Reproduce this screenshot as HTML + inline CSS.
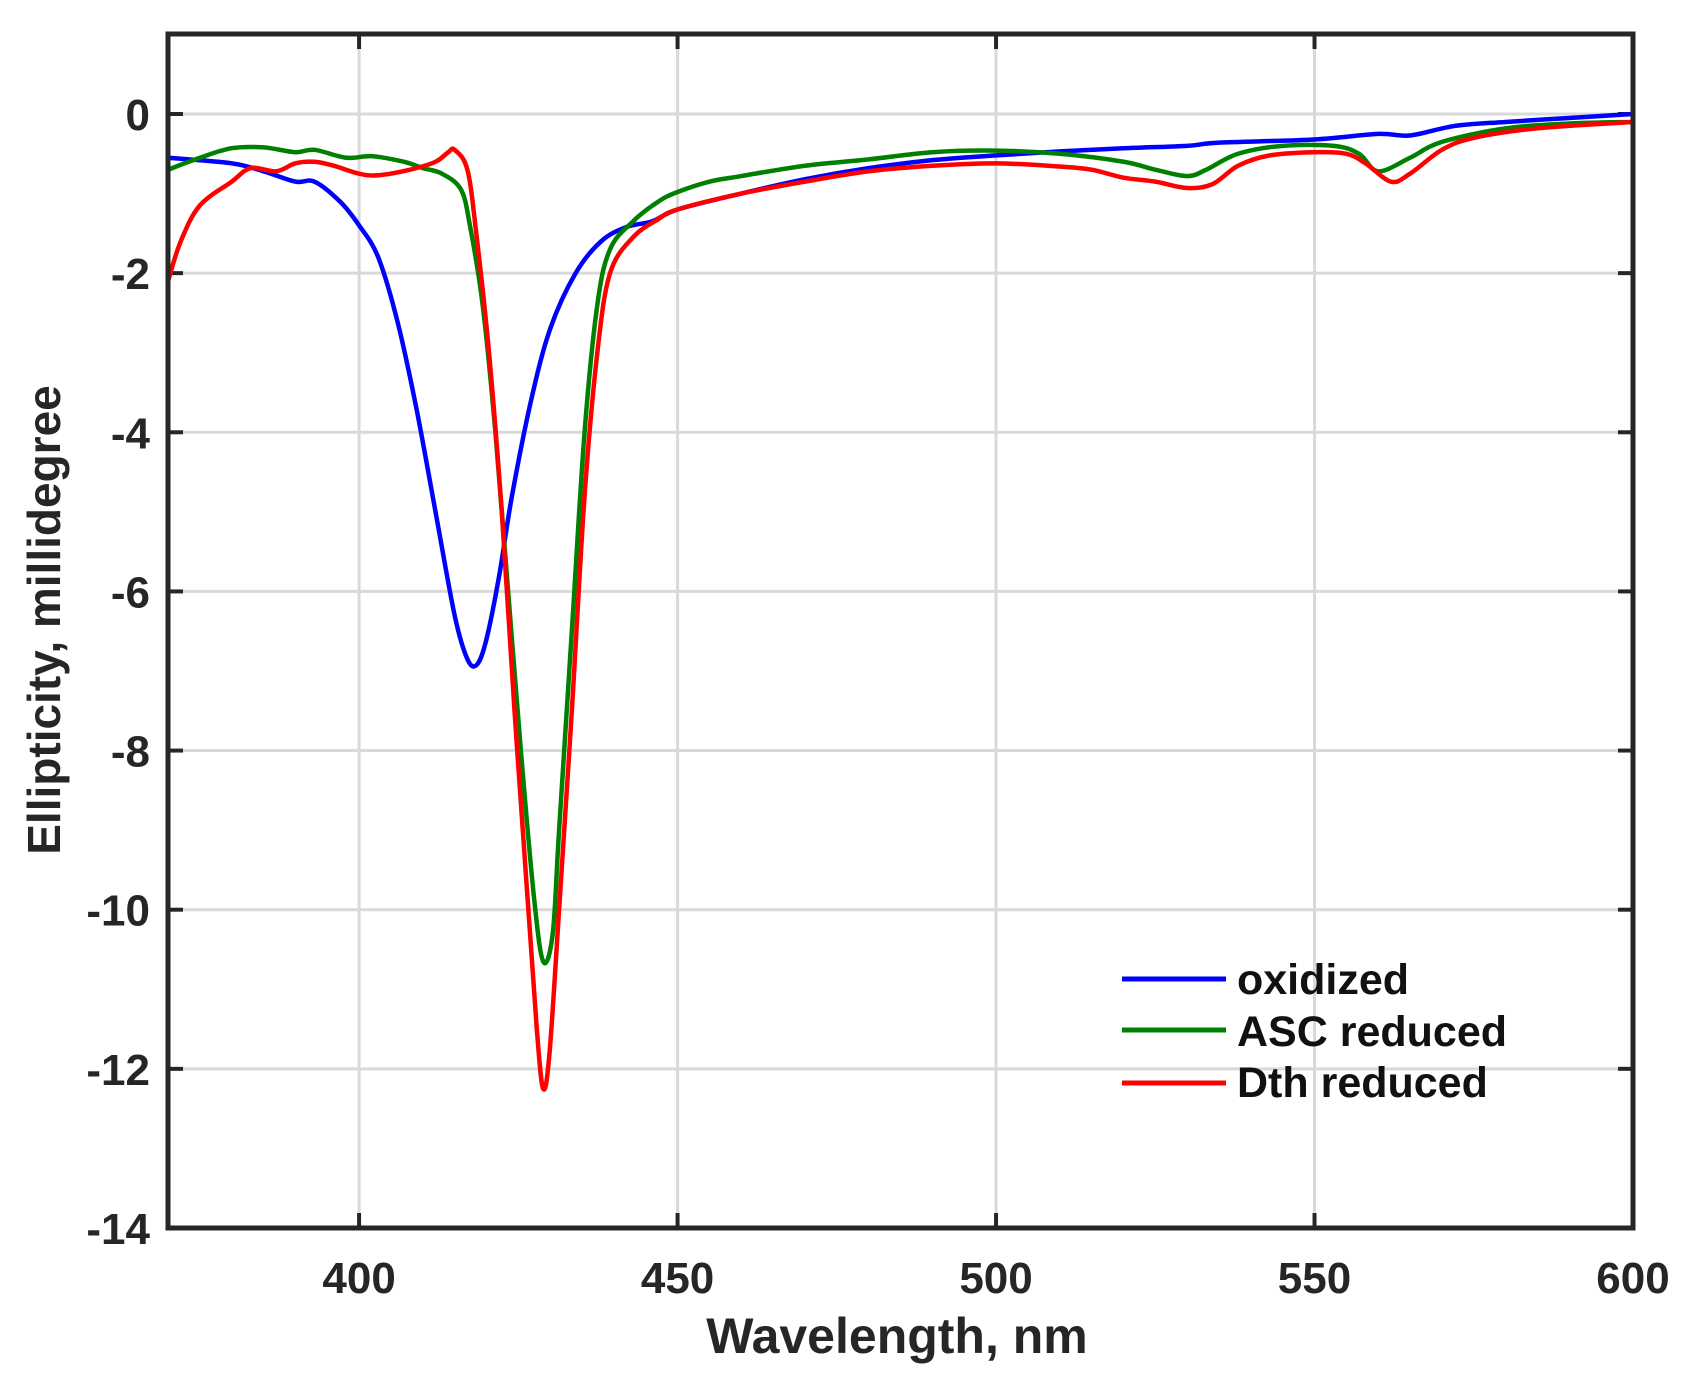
<!DOCTYPE html>
<html><head><meta charset="utf-8"><style>
html,body{margin:0;padding:0;background:#fff;}
svg{display:block;}
text{font-family:"Liberation Sans",Arial,sans-serif;font-weight:bold;fill:#262626;}
</style></head><body>
<svg id="s" width="1694" height="1389" viewBox="0 0 1694 1389" xmlns="http://www.w3.org/2000/svg">
<g id="grid" stroke="#d9d9d9" stroke-width="3"></g>
<g id="ticks" stroke="#262626" stroke-width="4"></g>
<g id="series" fill="none" stroke-width="4.5" stroke-linejoin="round" stroke-linecap="round"></g>
<rect x="168" y="34" width="1465" height="1194" fill="none" stroke="#262626" stroke-width="5"/>
<g id="labels" font-size="44"></g>
<text x="897" y="1353" font-size="50" text-anchor="middle">Wavelength, nm</text>
<text transform="translate(60,620) rotate(-90)" font-size="46" text-anchor="middle">Ellipticity, millidegree</text>
<line x1="1122" y1="979" x2="1226" y2="979" stroke="#0000ff" stroke-width="5"/>
<line x1="1122" y1="1030" x2="1226" y2="1030" stroke="#008000" stroke-width="5"/>
<line x1="1122" y1="1083" x2="1226" y2="1083" stroke="#ff0000" stroke-width="5"/>
<text x="1237" y="994" font-size="43" style="fill:#111">oxidized</text>
<text x="1237" y="1046" font-size="43" style="fill:#111">ASC reduced</text>
<text x="1237" y="1097" font-size="43" style="fill:#111">Dth reduced</text>
</svg>
<script>
var NS="http://www.w3.org/2000/svg";
function X(v){return 168+(v-370)*1465/230;}
function Y(v){return 114-v*79.57;}
function el(p,t,a,txt){var e=document.createElementNS(NS,t);for(var k in a)e.setAttribute(k,a[k]);if(txt)e.textContent=txt;document.getElementById(p).appendChild(e);}
[400,450,500,550,600].forEach(function(v){var x=X(v);el("grid","line",{x1:x,y1:34,x2:x,y2:1228});
 el("ticks","line",{x1:x,y1:1228,x2:x,y2:1213});el("ticks","line",{x1:x,y1:34,x2:x,y2:49});
 el("labels","text",{x:x,y:1293,"text-anchor":"middle"},String(v));});
for(var v=0;v>=-14;v-=2){var y=Y(v);el("grid","line",{x1:168,y1:y,x2:1633,y2:y});
 el("ticks","line",{x1:168,y1:y,x2:183,y2:y});el("ticks","line",{x1:1633,y1:y,x2:1618,y2:y});
 el("labels","text",{x:150,y:y+16,"text-anchor":"end"},String(v));}
var B=[[370,-.55],[380,-.62],[385,-.72],[390,-.85],[393,-.85],[397,-1.1],[400,-1.4],[403,-1.8],[406,-2.6],[409,-3.7],[412,-5.0],[415,-6.3],[417,-6.85],[418.5,-6.92],[420,-6.6],[422,-5.8],[424,-4.8],[427,-3.6],[430,-2.7],[434,-2.0],[438,-1.6],[442,-1.42],[446,-1.35],[450,-1.2],[460,-1.0],[470,-.82],[480,-.68],[490,-.58],[500,-.52],[510,-.47],[520,-.43],[530,-.4],[535,-.36],[550,-.32],[560,-.25],[565,-.27],[572,-.15],[580,-.1],[590,-.05],[600,0]];
var G=[[370,-.7],[375,-.55],[380,-.43],[385,-.42],[390,-.48],[393,-.45],[398,-.55],[402,-.53],[407,-.6],[410,-.68],[413,-.75],[416,-.95],[418,-1.4],[420,-2.4],[422,-4.0],[424,-6.0],[426,-8.0],[428,-9.8],[429.5,-10.65],[431,-10.3],[432,-9.0],[434,-6.5],[436,-4.0],[438,-2.4],[440,-1.7],[443,-1.35],[447,-1.1],[450,-.98],[455,-.85],[460,-.78],[470,-.65],[480,-.57],[490,-.48],[500,-.46],[510,-.5],[520,-.6],[525,-.7],[530,-.78],[533,-.7],[538,-.5],[545,-.4],[553,-.4],[557,-.5],[560,-.72],[565,-.55],[570,-.35],[580,-.18],[590,-.12],[600,-.1]];
var R=[[370,-2.1],[372,-1.6],[375,-1.15],[380,-.85],[383,-.68],[387,-.72],[390,-.62],[393,-.6],[396,-.65],[400,-.75],[403,-.77],[408,-.7],[412,-.6],[414,-.48],[415,-.45],[417,-.7],[419,-1.5],[421,-3.0],[423,-5.0],[425,-7.5],[427,-9.8],[428.5,-11.5],[429.5,-12.25],[430.5,-11.8],[432,-10.0],[434,-7.5],[436,-4.8],[438,-3.0],[440,-2.0],[443,-1.55],[447,-1.32],[450,-1.2],[460,-1.0],[470,-.85],[480,-.72],[490,-.65],[500,-.62],[510,-.66],[515,-.7],[520,-.8],[525,-.85],[530,-.93],[534,-.88],[538,-.65],[543,-.52],[550,-.48],[555,-.5],[558,-.62],[562,-.85],[565,-.75],[570,-.45],[575,-.3],[585,-.18],[600,-.1]];
function sh(d){return d.map(function(a){return (a[0]>=418&&a[0]<=440)?[a[0]-0.6,a[1]]:a;});}
G=sh(G);R=sh(R);
function path(d){var p=d.map(function(a){return [X(a[0]),Y(a[1])];});var s="M"+p[0][0]+","+p[0][1];
 for(var i=0;i<p.length-1;i++){var p0=p[i-1]||p[i],p1=p[i],p2=p[i+1],p3=p[i+2]||p2;
 s+=" C"+(p1[0]+(p2[0]-p0[0])/6)+","+(p1[1]+(p2[1]-p0[1])/6)+" "+(p2[0]-(p3[0]-p1[0])/6)+","+(p2[1]-(p3[1]-p1[1])/6)+" "+p2[0]+","+p2[1];}return s;}
el("series","path",{d:path(B),stroke:"#0000ff"});
el("series","path",{d:path(G),stroke:"#008000"});
el("series","path",{d:path(R),stroke:"#ff0000"});
</script>
</body></html>
